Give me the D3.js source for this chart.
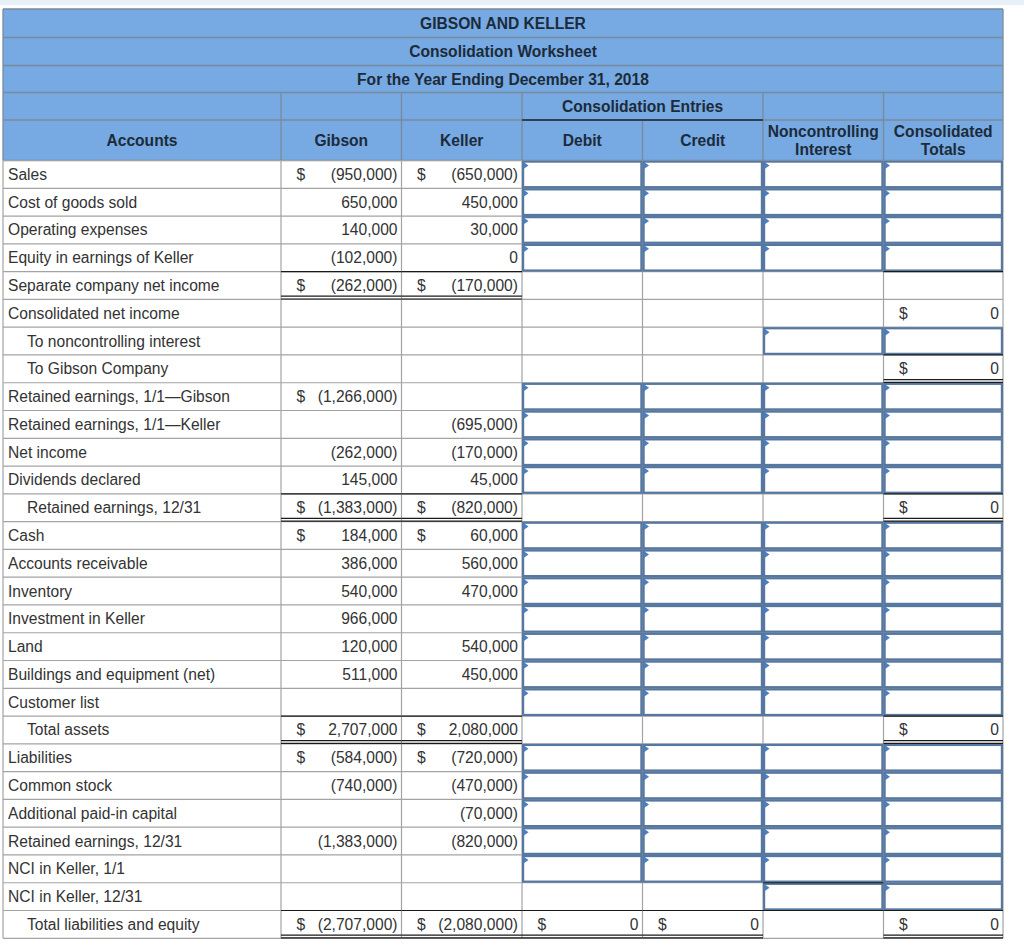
<!DOCTYPE html>
<html>
<head>
<meta charset="UTF-8">
<script src="https://d3js.org/d3.v7.min.js"></script>
<style>
  body { margin: 0; background: #fff; }
  svg text { font-family: "Liberation Sans", Arial, sans-serif; font-size: 15.6px; }
</style>
</head>
<body>
<div id="sheet"></div>
<script>
// ---- data ----
var titleLines = ["GIBSON AND KELLER", "Consolidation Worksheet", "For the Year Ending December 31, 2018"];
var columnHeads = ["Accounts", "Gibson", "Keller", "Debit", "Credit", "Noncontrolling|Interest", "Consolidated|Totals"];
var groupHead = "Consolidation Entries";

var accounts = [
  "Sales", "Cost of goods sold", "Operating expenses", "Equity in earnings of Keller",
  "Separate company net income", "Consolidated net income", "To noncontrolling interest",
  "To Gibson Company", "Retained earnings, 1/1\u2014Gibson", "Retained earnings, 1/1\u2014Keller",
  "Net income", "Dividends declared", "Retained earnings, 12/31", "Cash", "Accounts receivable",
  "Inventory", "Investment in Keller", "Land", "Buildings and equipment (net)", "Customer list",
  "Total assets", "Liabilities", "Common stock", "Additional paid-in capital",
  "Retained earnings, 12/31", "NCI in Keller, 1/1", "NCI in Keller, 12/31", "Total liabilities and equity"
];
var indentedRows = [6, 7, 12, 20, 27];

var gibson = [-950000, 650000, 140000, -102000, -262000, null, null, null, -1266000, null,
  -262000, 145000, -1383000, 184000, 386000, 540000, 966000, 120000, 511000, null,
  2707000, -584000, -740000, null, -1383000, null, null, -2707000];
var keller = [-650000, 450000, 30000, 0, -170000, null, null, null, null, -695000,
  -170000, 45000, -820000, 60000, 560000, 470000, null, 540000, 450000, null,
  2080000, -720000, -470000, -70000, -820000, null, null, -2080000];
var gibsonDollarRows = [0, 4, 8, 12, 13, 20, 21, 27];
var kellerDollarRows = [0, 4, 12, 13, 20, 21, 27];
var companyTotalRows = [4, 12, 20, 27];

// which of Debit(D) / Credit(C) / NCI(N) / Totals(T) are answer boxes in each row
var entryInputs = ["DCNT", "DCNT", "DCNT", "DCNT", "", "", "NT", "", "DCNT", "DCNT",
  "DCNT", "DCNT", "", "DCNT", "DCNT", "DCNT", "DCNT", "DCNT", "DCNT", "DCNT",
  "", "DCNT", "DCNT", "DCNT", "DCNT", "DCNT", "NT", ""];

// computed cells
var computedRows = [5, 7, 12, 20, 27, 27, 27];
var computedCols = ["T", "T", "T", "T", "T", "D", "C"];
var computedVals = [0, 0, 0, 0, 0, 0, 0];
var doubleRuleCells = ["7T", "12T", "20T", "27T", "27D", "27C"];
var topRuleCells = ["4T", "7T", "12T", "20T", "27T", "27D", "27C", "26N", "27N"];

// ---- layout ----
var W = 1024, H = 949;
var colEdges = [3, 281, 401.5, 522, 642.5, 763, 883.5, 1003];
var headEdges = [9, 37.5, 65.5, 92.5, 120, 160.5];
var entryKeys = { D: 3, C: 4, N: 5, T: 6 };

var x0 = function(c) { return colEdges[c]; };
var x1 = function(c) { return colEdges[c + 1]; };
var y = d3.scaleBand().domain(d3.range(accounts.length)).range([160.5, 938.3]);

var headFill = "#77a9e2", headLine = "#7a8a9a", headText = "#1c2b3a";
var gridLine = "#a3a3a3", bodyText = "#333", boxLine = "#5677a0", flagFill = "#4a7fc2";

var fmt = d3.format(",");
function money(v) { return v < 0 ? "(" + fmt(-v) + ")" : fmt(v); }

var svg = d3.select("#sheet").append("svg")
  .attr("width", W).attr("height", H)
  .attr("viewBox", "0 0 " + W + " " + H);

svg.append("rect").attr("x", 0).attr("y", 0).attr("width", W).attr("height", 5).attr("fill", "#e7eff7");

// header band
var head = svg.append("g");
head.append("rect")
  .attr("x", colEdges[0]).attr("y", headEdges[0])
  .attr("width", colEdges[7] - colEdges[0]).attr("height", headEdges[5] - headEdges[0])
  .attr("fill", headFill);

head.selectAll("line.h").data(headEdges).enter().append("line")
  .attr("x1", colEdges[0]).attr("x2", colEdges[7])
  .attr("y1", function(d) { return d; }).attr("y2", function(d) { return d; })
  .attr("stroke", headLine).attr("stroke-width", 1.3);

// vertical lines in the two lower header rows (none between Debit/Credit on group row)
var vGroup = [0, 1, 2, 3, 5, 6, 7];
head.selectAll("line.vg").data(vGroup).enter().append("line")
  .attr("x1", function(c) { return colEdges[c]; }).attr("x2", function(c) { return colEdges[c]; })
  .attr("y1", function(c) { return (c === 0 || c === 7) ? headEdges[0] : headEdges[3]; })
  .attr("y2", headEdges[4])
  .attr("stroke", headLine).attr("stroke-width", 1.3);
head.selectAll("line.vc").data(d3.range(8)).enter().append("line")
  .attr("x1", function(c) { return colEdges[c]; }).attr("x2", function(c) { return colEdges[c]; })
  .attr("y1", headEdges[4]).attr("y2", headEdges[5])
  .attr("stroke", headLine).attr("stroke-width", 1.3);

head.append("line")
  .attr("x1", colEdges[3]).attr("x2", colEdges[5])
  .attr("y1", headEdges[4]).attr("y2", headEdges[4])
  .attr("stroke", "#16243a").attr("stroke-width", 1.6);

head.selectAll("text.title").data(titleLines).enter().append("text")
  .attr("x", (colEdges[0] + colEdges[7]) / 2)
  .attr("y", function(d, i) { return (headEdges[i] + headEdges[i + 1]) / 2 + 5.5; })
  .attr("text-anchor", "middle").attr("font-weight", "bold").attr("fill", headText)
  .text(function(d) { return d; });

head.append("text")
  .attr("x", (colEdges[3] + colEdges[5]) / 2)
  .attr("y", (headEdges[3] + headEdges[4]) / 2 + 5.5)
  .attr("text-anchor", "middle").attr("font-weight", "bold").attr("fill", headText)
  .text(groupHead);

columnHeads.forEach(function(h, c) {
  var parts = h.split("|");
  var cy = (headEdges[4] + headEdges[5]) / 2;
  var t = head.append("text")
    .attr("text-anchor", "middle").attr("font-weight", "bold").attr("fill", headText);
  parts.forEach(function(p, k) {
    t.append("tspan")
      .attr("x", (x0(c) + x1(c)) / 2)
      .attr("y", cy + 5.5 + (k - (parts.length - 1) / 2) * 18)
      .text(p);
  });
});

// body grid
var body = svg.append("g");
var rows = d3.range(accounts.length);
body.selectAll("line.row").data(rows.concat([accounts.length])).enter().append("line")
  .attr("x1", colEdges[0]).attr("x2", colEdges[7])
  .attr("y1", function(r) { return r < accounts.length ? y(r) : y.range()[1]; })
  .attr("y2", function(r) { return r < accounts.length ? y(r) : y.range()[1]; })
  .attr("stroke", gridLine).attr("stroke-width", 1.2);
body.selectAll("line.col").data(d3.range(8)).enter().append("line")
  .attr("x1", function(c) { return colEdges[c]; }).attr("x2", function(c) { return colEdges[c]; })
  .attr("y1", y.range()[0]).attr("y2", y.range()[1])
  .attr("stroke", gridLine).attr("stroke-width", 1.2);

// account labels
body.selectAll("text.acct").data(rows).enter().append("text")
  .attr("x", function(r) { return indentedRows.indexOf(r) >= 0 ? 27 : 8; })
  .attr("y", function(r) { return y(r) + y.bandwidth() / 2 + 5.5; })
  .attr("fill", bodyText)
  .text(function(r) { return accounts[r]; });

// company columns
function companyColumn(vals, dollarRows, c) {
  var g = body.append("g");
  var cells = rows.filter(function(r) { return vals[r] !== null; });
  g.selectAll("text.v").data(cells).enter().append("text")
    .attr("x", x1(c) - 4)
    .attr("y", function(r) { return y(r) + y.bandwidth() / 2 + 5.5; })
    .attr("text-anchor", "end").attr("fill", bodyText)
    .text(function(r) { return money(vals[r]); });
  g.selectAll("text.d").data(dollarRows).enter().append("text")
    .attr("x", x0(c) + 15.5)
    .attr("y", function(r) { return y(r) + y.bandwidth() / 2 + 5.5; })
    .attr("fill", bodyText).text("$");
}
companyColumn(gibson, gibsonDollarRows, 1);
companyColumn(keller, kellerDollarRows, 2);

// answer boxes
var boxes = [];
entryInputs.forEach(function(s, r) {
  s.split("").forEach(function(k) { boxes.push({ r: r, c: entryKeys[k] }); });
});
var bw = 2.2;
body.selectAll("rect.box").data(boxes).enter().append("rect")
  .attr("x", function(d) { return x0(d.c) + bw / 2; })
  .attr("y", function(d) { return y(d.r) + bw / 2; })
  .attr("width", function(d) { return x1(d.c) - x0(d.c) - bw; })
  .attr("height", y.bandwidth() - bw)
  .attr("fill", "#fff").attr("stroke", boxLine).attr("stroke-width", bw);
body.selectAll("path.flag").data(boxes).enter().append("path")
  .attr("d", function(d) {
    var px = x0(d.c) + 1.5, py = y(d.r) + 1.5;
    return "M" + px + "," + py + "L" + px + "," + (py + 7) + "L" + (px + 5) + "," + (py + 3.5) + "Z";
  })
  .attr("fill", flagFill);

// computed totals
var computed = computedRows.map(function(r, i) { return { r: r, c: entryKeys[computedCols[i]], v: computedVals[i] }; });
body.selectAll("text.cv").data(computed).enter().append("text")
  .attr("x", function(d) { return x1(d.c) - 4; })
  .attr("y", function(d) { return y(d.r) + y.bandwidth() / 2 + 5.5; })
  .attr("text-anchor", "end").attr("fill", bodyText)
  .text(function(d) { return money(d.v); });
body.selectAll("text.cd").data(computed).enter().append("text")
  .attr("x", function(d) { return x0(d.c) + 15.5; })
  .attr("y", function(d) { return y(d.r) + y.bandwidth() / 2 + 5.5; })
  .attr("fill", bodyText).text("$");

// rules for totals
function cellOf(key) {
  var m = key.match(/^(\d+)([DCNT])$/);
  return { r: +m[1], c: entryKeys[m[2]] };
}
var topRules = topRuleCells.map(cellOf);
var dblRules = doubleRuleCells.map(cellOf);
companyTotalRows.forEach(function(r) {
  [1, 2].forEach(function(c) { topRules.push({ r: r, c: c }); dblRules.push({ r: r, c: c }); });
});
var rules = svg.append("g").attr("stroke", "#1a1a1a").attr("stroke-width", 1.2);
rules.selectAll("line.top").data(topRules).enter().append("line")
  .attr("x1", function(d) { return x0(d.c); }).attr("x2", function(d) { return x1(d.c); })
  .attr("y1", function(d) { return y(d.r); }).attr("y2", function(d) { return y(d.r); });
[3.2, 0.4].forEach(function(off) {
  rules.selectAll(null).data(dblRules).enter().append("line")
    .attr("x1", function(d) { return x0(d.c); }).attr("x2", function(d) { return x1(d.c); })
    .attr("y1", function(d) { return y(d.r) + y.bandwidth() - off; })
    .attr("y2", function(d) { return y(d.r) + y.bandwidth() - off; });
});
</script>
</body>
</html>
